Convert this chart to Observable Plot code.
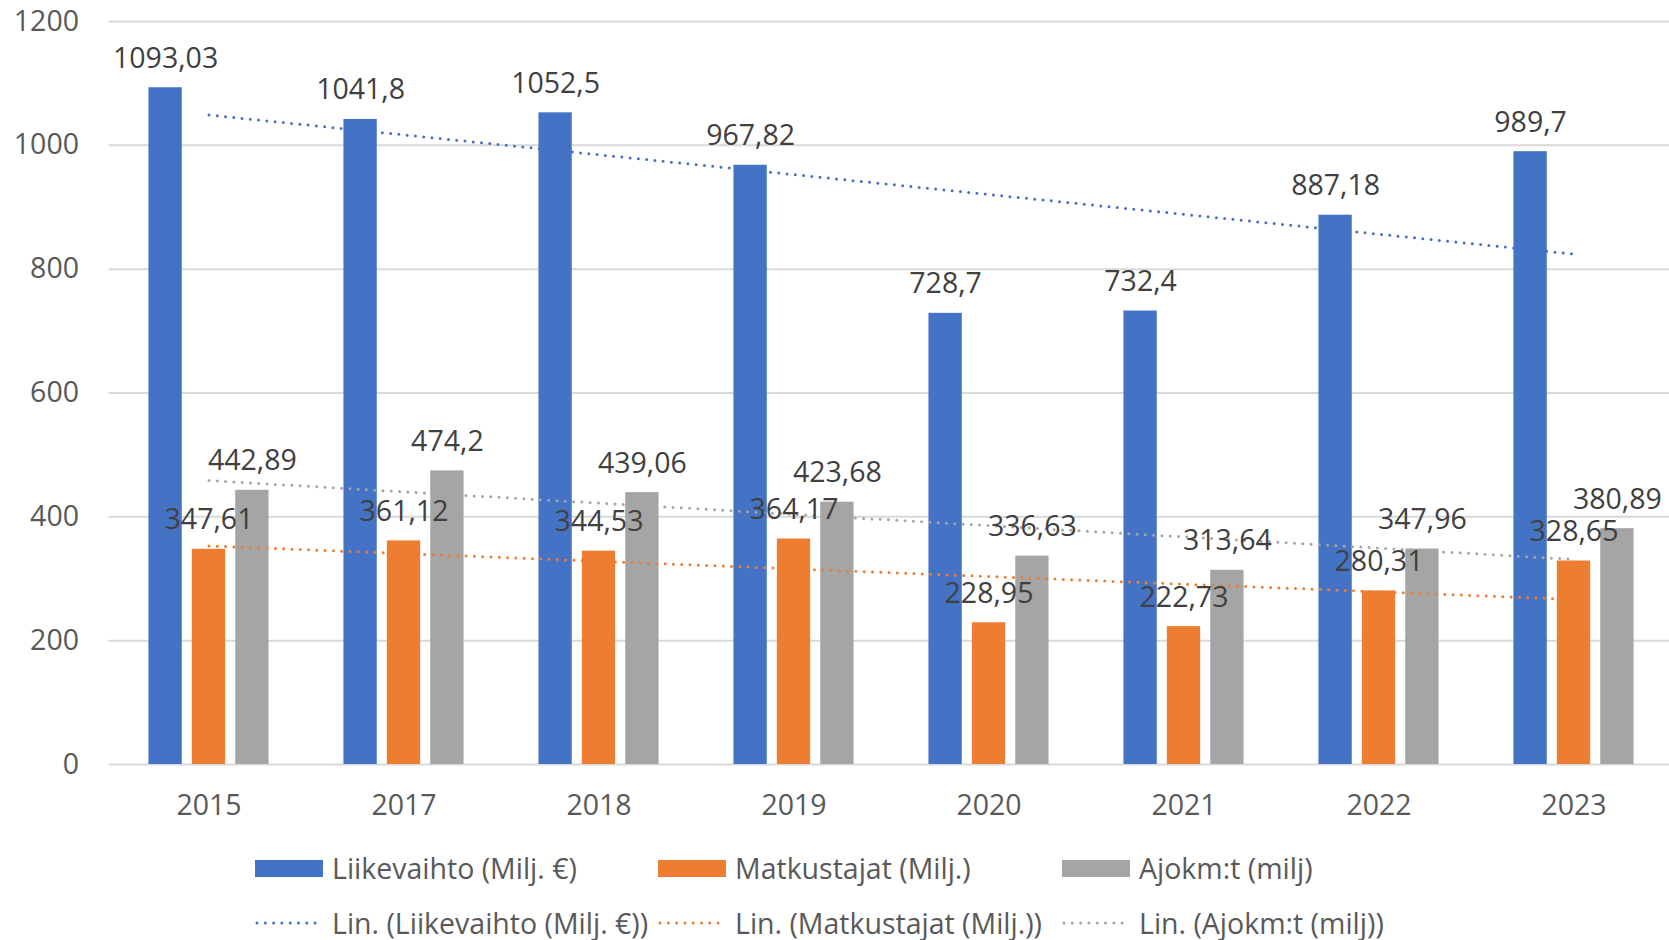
<!DOCTYPE html>
<html><head><meta charset="utf-8">
<script src="https://cdn.jsdelivr.net/npm/d3@7"></script>
<script src="https://cdn.jsdelivr.net/npm/@observablehq/plot@0.6"></script>
<style>
html,body{margin:0;background:#fff;font-family:"Open Sans",sans-serif;overflow:hidden;width:1669px;}
#chart{width:1669px;height:840px;overflow:hidden;}
#chart svg{max-width:none !important;}
#legend{position:relative;height:100px;width:1669px;}
.item{position:absolute;display:flex;align-items:center;font-size:28.5px;color:#595959;white-space:nowrap;transform:translateY(-50%);}
.sw{width:68px;height:17px;margin-right:9px;}
.ln{width:68px;height:6px;margin-right:9px;display:block;}
</style></head><body><div id="chart"></div><div id="legend"></div>
<script>
const years = ["2015","2017","2018","2019","2020","2021","2022","2023"];
const liikevaihto = [1093.03, 1041.8, 1052.5, 967.82, 728.7, 732.4, 887.18, 989.7];
const matkustajat = [347.61, 361.12, 344.53, 364.17, 228.95, 222.73, 280.31, 328.65];
const ajokm = [442.89, 474.2, 439.06, 423.68, 336.63, 313.64, 347.96, 380.89];
const seriesNames = ["Liikevaihto (Milj. €)", "Matkustajat (Milj.)", "Ajokm:t (milj)"];
const trendNames = ["Lin. (Liikevaihto (Milj. €))", "Lin. (Matkustajat (Milj.))", "Lin. (Ajokm:t (milj))"];
const colors = ["#4472C4", "#ED7D31", "#A5A5A5"];
const yTicks = [0, 200, 400, 600, 800, 1000, 1200];

const W = 1674, H = 840, ML = 108.5, MR = 0, MT = 21, MB = 76;
const bw = (W - ML - MR) / years.length;
const barW = 34, step = 43.4;
const ins = (bw - barW) / 2;
const FS = 28.5;

const allSeries = [liikevaihto, matkustajat, ajokm];
const rows = allSeries.map((vals, i) => vals.map((v, j) => ({year: years[j], value: v, series: seriesNames[i]})));

// Excel-style linear trendline on category index 1..n
function trend(vals) {
  const xs = vals.map((_, j) => j + 1);
  const mx = d3.mean(xs), my = d3.mean(vals);
  const sxy = d3.sum(xs, (x, j) => (x - mx) * (vals[j] - my));
  const sxx = d3.sum(xs, x => (x - mx) ** 2);
  const b = sxy / sxx, a = my - b * mx;
  return xs.map((x, j) => ({year: years[j], value: a + b * x}));
}
const trends = allSeries.map(trend);
const fmt = v => String(v).replace(".", ",");

const marks = [Plot.ruleY(yTicks, {stroke: "#d9d9d9", strokeWidth: 2})];
allSeries.forEach((_, i) => {
  marks.push(Plot.barY(rows[i], {x: "year", y: "value", fill: colors[i], insetLeft: ins, insetRight: ins, dx: (i - 1) * step}));
});
allSeries.forEach((_, i) => {
  marks.push(Plot.line(trends[i], {x: "year", y: "value", stroke: colors[i], strokeWidth: 3, strokeDasharray: "0 8.3", strokeLinecap: "round"}));
});
allSeries.forEach((_, i) => {
  marks.push(Plot.text(rows[i], {x: "year", y: "value", text: d => fmt(d.value), dx: (i - 1) * step, dy: -20, lineAnchor: "bottom", textAnchor: "middle", fill: "#404040", fontSize: FS}));
});
marks.push(Plot.axisY({ticks: yTicks, tickFormat: d => String(d), tickSize: 0, tickPadding: 30, label: null, fontSize: FS}));
marks.push(Plot.axisX({tickSize: 0, tickPadding: 30, label: null, fontSize: FS}));

const chart = Plot.plot({
  width: W, height: H,
  marginLeft: ML, marginRight: MR, marginTop: MT, marginBottom: MB,
  style: {fontFamily: "'Open Sans', sans-serif", color: "#595959", background: "#fff", overflow: "visible", maxWidth: "none"},
  x: {domain: years, padding: 0},
  y: {domain: [0, 1200]},
  marks
});
chart.style.maxWidth = "none";
document.getElementById("chart").appendChild(chart);

const legend = document.getElementById("legend");
const xs = [255, 658, 1062];
seriesNames.forEach((n, i) => {
  const it = document.createElement("div");
  it.className = "item";
  it.style.left = xs[i] + "px"; it.style.top = "28px";
  it.innerHTML = `<div class="sw" style="background:${colors[i]}"></div><span>${n}</span>`;
  legend.appendChild(it);
});
trendNames.forEach((n, i) => {
  const it = document.createElement("div");
  it.className = "item";
  it.style.left = xs[i] + "px"; it.style.top = "83px";
  it.innerHTML = `<svg class="ln" width="68" height="6"><line x1="2" y1="3" x2="68" y2="3" stroke="${colors[i]}" stroke-width="3" stroke-dasharray="0 8.3" stroke-linecap="round"/></svg><span>${n}</span>`;
  legend.appendChild(it);
});
</script></body></html>
